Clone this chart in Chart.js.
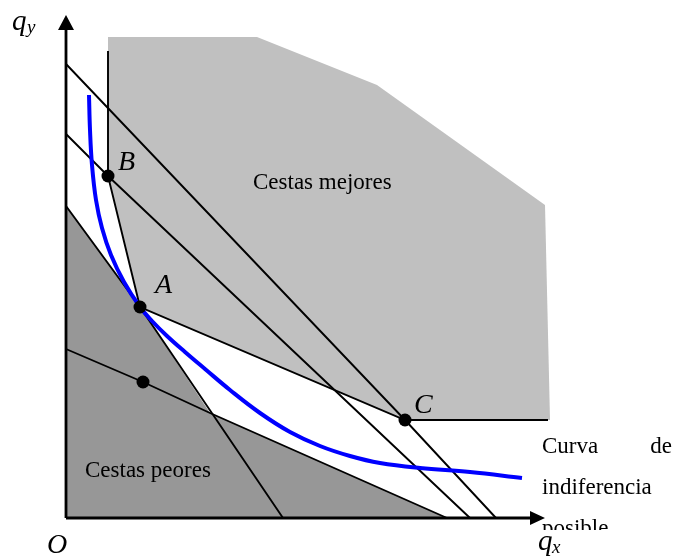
<!DOCTYPE html>
<html>
<head>
<meta charset="utf-8">
<script src="https://cdn.jsdelivr.net/npm/chart.js@4/dist/chart.umd.min.js"></script>
<style>
html,body{margin:0;padding:0;background:#fff;}
#wrap{width:673px;height:557px;}
</style>
</head>
<body>
<div id="wrap"><canvas id="c" width="673" height="557"></canvas></div>
<script>
// Quantities (origin O = 0,0; units of the drawing)
const betterRegion = [[42,481],[191,481],[311,433],[479,313],[484,98],[339,98],[74,211],[42,342],[42,481]];
const worseRegion  = [[0,312],[74,211],[144,105],[381,0],[0,0],[0,312]];
const tangentLine  = [[0,312],[74,211],[217,0]];
const budgetB      = [[0,384],[42,342],[404,0]];
const budgetC      = [[0,454],[339,98],[430,0]];
const budgetLow    = [[0,169],[77,136],[144,105],[381,0]];
const frontier     = [[42,467],[42,342],[74,211],[339,98],[482,98]];
const indifference = [[23,423],[24,388],[26,353],[30,318],[36,290],[45,263],[58,236],[74,211],[86,197],[101,182],[119,166],[139,149],[164,128],[194,105],[224,86],[254,72],[284,62],[314,55],[354,50],[404,46],[456,40]];
const points       = [[42,342],[74,211],[339,98],[77,136]];
const yAxis        = [[0,0],[0,488]];
const xAxis        = [[0,0],[464,0]];
const yArrow       = [[-8,488],[8,488],[0,503],[-8,488]];
const xArrow       = [[464,7],[464,-7],[479,0],[464,7]];

const xy = a => a.map(p => ({x:p[0], y:p[1]}));

// text annotations (text, x, y in data units, font, align)
const labels = [
  {t:'q', x:-54, y:488, f:'italic 29px "Liberation Serif"', a:'left'},
  {t:'y', x:-39, y:485, f:'italic 19px "Liberation Serif"', a:'left'},
  {t:'O', x:-19, y:-35, f:'italic 28px "Liberation Serif"', a:'left'},
  {t:'q', x:472, y:-32, f:'italic 29px "Liberation Serif"', a:'left'},
  {t:'x', x:486, y:-35, f:'italic 19px "Liberation Serif"', a:'left'},
  {t:'B', x:52, y:348, f:'italic 28px "Liberation Serif"', a:'left'},
  {t:'A', x:89, y:225, f:'italic 28px "Liberation Serif"', a:'left'},
  {t:'C', x:348, y:105, f:'italic 28px "Liberation Serif"', a:'left'},
  {t:'Cestas mejores', x:187, y:329, f:'23px "Liberation Serif"', a:'left'},
  {t:'Cestas peores', x:19, y:41, f:'23px "Liberation Serif"', a:'left'},
  {t:'Curva', x:476, y:65, f:'23px "Liberation Serif"', a:'left'},
  {t:'de', x:606, y:65, f:'23px "Liberation Serif"', a:'right'},
  {t:'indiferencia', x:476, y:24, f:'23px "Liberation Serif"', a:'left'},
  {t:'posible', x:476, y:-17, f:'23px "Liberation Serif"', a:'left', clipY:-12}
];

const textPlugin = {
  id:'texts',
  afterDraw(chart){
    const ctx = chart.ctx, sx = chart.scales.x, sy = chart.scales.y;
    labels.forEach(l=>{
      ctx.save();
      if (l.clipY !== undefined){
        ctx.beginPath();
        ctx.rect(0,0,chart.width,sy.getPixelForValue(l.clipY));
        ctx.clip();
      }
      ctx.font = l.f;
      ctx.fillStyle = '#000';
      ctx.textAlign = l.a;
      ctx.textBaseline = 'alphabetic';
      ctx.fillText(l.t, sx.getPixelForValue(l.x), sy.getPixelForValue(l.y));
      ctx.restore();
    });
  }
};

const lineDs = (d, w, order, color) => ({data:xy(d), showLine:true, borderColor:color||'#000', borderWidth:w, pointRadius:0, fill:false, tension:0, order});
const polyDs = (d, color, order) => ({data:xy(d), showLine:true, borderWidth:0, borderColor:color, backgroundColor:color, pointRadius:0, fill:'shape', tension:0, order});

new Chart(document.getElementById('c'), {
  type:'scatter',
  data:{datasets:[
    polyDs(betterRegion, '#c0c0c0', 10),
    polyDs(worseRegion, '#979797', 9),
    lineDs(tangentLine, 1.9, 5),
    lineDs(budgetB, 1.9, 5),
    lineDs(budgetC, 1.9, 5),
    lineDs(budgetLow, 1.9, 5),
    lineDs(frontier, 1.9, 5),
    {data:xy(indifference), showLine:true, borderColor:'#0000ff', borderWidth:4, pointRadius:0, fill:false, tension:0.4, order:3},
    lineDs(yAxis, 2.8, 2),
    lineDs(xAxis, 2.8, 2),
    polyDs(yArrow, '#000', 2),
    polyDs(xArrow, '#000', 2),
    {data:xy(points), showLine:false, pointRadius:6.5, pointBackgroundColor:'#000', pointBorderColor:'#000', pointBorderWidth:0, order:0}
  ]},
  options:{
    responsive:false, animation:false,
    layout:{padding:0, autoPadding:false},
    plugins:{legend:{display:false}, tooltip:{enabled:false}},
    scales:{
      x:{type:'linear', min:-66, max:607, display:false},
      y:{type:'linear', min:-39, max:518, display:false}
    }
  },
  plugins:[textPlugin]
});
</script>
</body>
</html>
